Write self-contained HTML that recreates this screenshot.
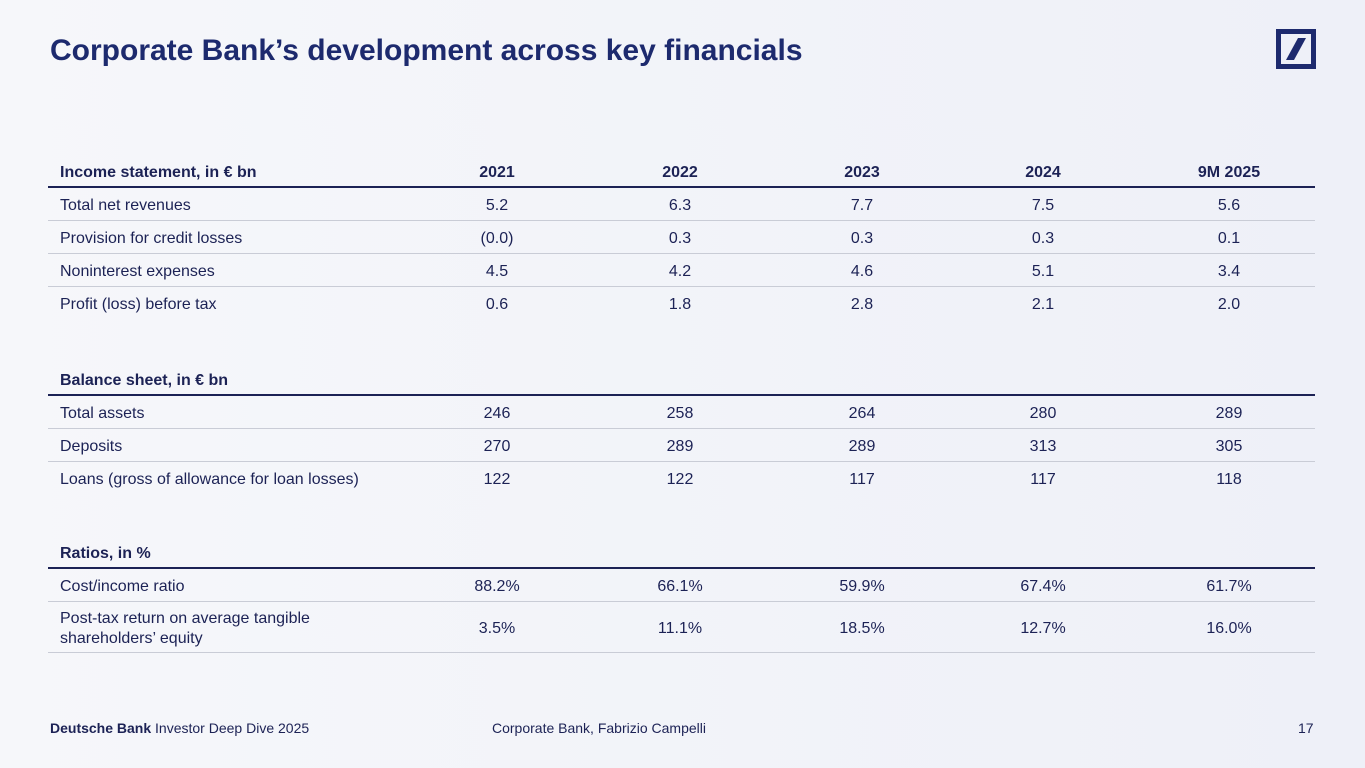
<!DOCTYPE html>
<html><head><meta charset="utf-8"><style>
html,body{margin:0;padding:0}
body{width:1365px;height:768px;position:relative;overflow:hidden;background:linear-gradient(90deg,#f6f7fa 0%,#eef0f8 100%);font-family:"Liberation Sans",sans-serif;color:#1c2255}
.t{position:absolute;white-space:nowrap;font-size:16px;line-height:18px}
.b{font-weight:bold}
.c{transform:translateX(-50%)}
.ln{position:absolute;left:48px;width:1267px;height:1px;background:#c9ccd6}
.th{height:2px;background:#1c2255}
</style></head><body>
<div class="t b" style="left:50px;top:33px;font-size:30px;line-height:36px;color:#1d2a6e">Corporate Bank’s development across key financials</div>
<div style="position:absolute;left:1276px;top:29px;width:30px;height:30px;border:5px solid #1d2a6e">
<svg width="30" height="30" style="position:absolute;left:0;top:0"><polygon points="17,4 25,4 13,26 5,26" fill="#1d2a6e"/></svg></div>
<div id="tbl"></div>
<div class="t" style="left:50px;top:719px;font-size:14px"><b>Deutsche Bank</b> Investor Deep Dive 2025</div>
<div class="t" style="left:492px;top:719px;font-size:14px">Corporate Bank, Fabrizio Campelli</div>
<div class="t" style="left:1298px;top:719px;font-size:14px">17</div>
<script>
const cols=[497,680,862,1043,1229];
const years=["2021","2022","2023","2024","9M 2025"];
const sections=[
 {title:"Income statement, in € bn",y:171,hdr:true,rows:[
  ["Total net revenues","5.2","6.3","7.7","7.5","5.6"],
  ["Provision for credit losses","(0.0)","0.3","0.3","0.3","0.1"],
  ["Noninterest expenses","4.5","4.2","4.6","5.1","3.4"],
  ["Profit (loss) before tax","0.6","1.8","2.8","2.1","2.0"]],last:false},
 {title:"Balance sheet, in € bn",y:379,rows:[
  ["Total assets","246","258","264","280","289"],
  ["Deposits","270","289","289","313","305"],
  ["Loans (gross of allowance for loan losses)","122","122","117","117","118"]],last:false},
 {title:"Ratios, in %",y:552,rows:[
  ["Cost/income ratio","88.2%","66.1%","59.9%","67.4%","61.7%"],
  ["Post-tax return on average tangible<br>shareholders’ equity","3.5%","11.1%","18.5%","12.7%","16.0%"]],last:true}
];
const root=document.getElementById('tbl');
function add(html,cls,x,y,name){const d=document.createElement('div');d.className='t '+cls;d.innerHTML=html;d.style.left=x+'px';d.style.top=(y-7)+'px';


root.appendChild(d);return d;}
function line(y,thick){const d=document.createElement('div');d.className='ln'+(thick?' th':'');d.style.top=y+'px';


root.appendChild(d);}
sections.forEach(s=>{
 add(s.title,'b',60,s.y,'section-header');
 if(s.hdr) years.forEach((yr,i)=>add(yr,'b c',cols[i],s.y,'column-header'));
 line(s.y+15,true);
 let y=s.y+33;
 s.rows.forEach((r,ri)=>{
  const two=r[0].includes('<br>');
  const cy=two?y+9:y;
  const lab=add(r[0],'',60,cy,'row-label');
  if(two){lab.style.top=(cy-18)+'px';lab.style.lineHeight='20px';}
  r.slice(1).forEach((v,i)=>add(v,'c',cols[i],cy,'cell-value'));
  const ly=two?cy+25:cy+16;
  if(ri<s.rows.length-1||s.last) line(ly,false);
  y=ly+17;
 });
});
</script>
</body></html>
